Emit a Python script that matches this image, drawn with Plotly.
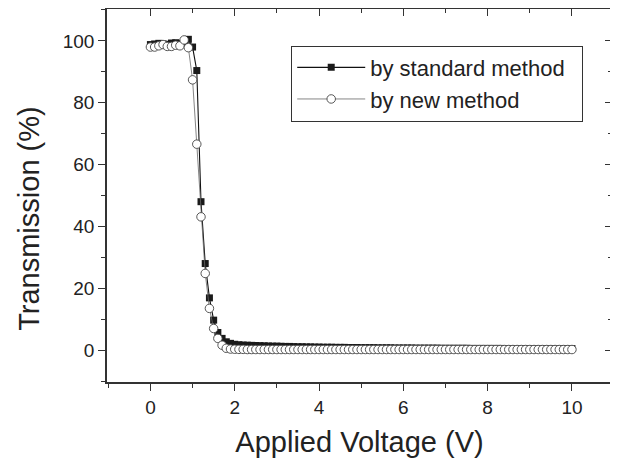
import plotly.graph_objects as go

voltage = [round(i * 0.1, 1) for i in range(101)]

standard = [98.8, 99.0, 99.2, 99.0, 98.9, 99.3, 99.4, 99.1, 99.5, 100.5,
            98.0, 90.4, 48.0, 28.0, 16.9, 9.7, 5.7, 3.8, 2.7, 2.2,
            1.9, 1.75, 1.65, 1.6, 1.55, 1.5, 1.45, 1.4, 1.35, 1.3,
            1.3, 1.25, 1.2, 1.2, 1.15, 1.1, 1.1, 1.05, 1.05, 1.0,
            1.0, 0.95, 0.95, 0.95, 0.9, 0.9, 0.9, 0.85, 0.85, 0.85,
            0.8, 0.8, 0.8, 0.8, 0.75, 0.75, 0.75, 0.75, 0.7, 0.7,
            0.7, 0.7, 0.7, 0.65, 0.65, 0.65, 0.65, 0.65, 0.65, 0.6,
            0.6, 0.6, 0.6, 0.6, 0.6, 0.6, 0.55, 0.55, 0.55, 0.55,
            0.55, 0.55, 0.55, 0.55, 0.5, 0.5, 0.5, 0.5, 0.5, 0.5,
            0.5, 0.5, 0.5, 0.5, 0.5, 0.5, 0.5, 0.5, 0.5, 0.5,
            0.5]

new = [98.0, 98.0, 98.4, 98.8, 98.2, 98.2, 98.6, 98.4, 100.3, 97.8,
       87.4, 66.6, 43.1, 24.8, 13.5, 7.0, 3.8, 1.6, 0.6, 0.35,
       0.3, 0.25, 0.25, 0.2, 0.2, 0.2, 0.2, 0.2, 0.2, 0.2,
       0.2, 0.2, 0.2, 0.2, 0.2, 0.2, 0.2, 0.2, 0.2, 0.2,
       0.2, 0.2, 0.2, 0.2, 0.2, 0.2, 0.2, 0.2, 0.2, 0.2,
       0.2, 0.2, 0.2, 0.2, 0.2, 0.2, 0.2, 0.2, 0.2, 0.2,
       0.2, 0.2, 0.2, 0.2, 0.2, 0.2, 0.2, 0.2, 0.2, 0.2,
       0.2, 0.2, 0.2, 0.2, 0.2, 0.2, 0.2, 0.2, 0.2, 0.2,
       0.2, 0.2, 0.2, 0.2, 0.2, 0.2, 0.2, 0.2, 0.2, 0.2,
       0.2, 0.2, 0.2, 0.2, 0.2, 0.2, 0.2, 0.2, 0.2, 0.2,
       0.2]

series_names = ["by standard method", "by new method"]
x_title = "Applied Voltage (V)"
y_title = "Transmission (%)"

x_ticks = [0, 2, 4, 6, 8, 10]
y_ticks = [0, 20, 40, 60, 80, 100]
x_range = [-1.03, 10.95]
y_range = [-10.3, 110.3]

font_family = "Liberation Sans, Arial, Helvetica, sans-serif"
ink = "#222222"
axis_col = "#333333"
pad = "\u00a0\u00a0"

fig = go.Figure()
fig.add_trace(go.Scatter(
    x=voltage, y=standard, name=series_names[0] + pad, mode="lines+markers",
    line=dict(color="#111111", width=1.1),
    marker=dict(symbol="square", size=7, color="#1a1a1a",
                line=dict(color="#1a1a1a", width=0)),
))
fig.add_trace(go.Scatter(
    x=voltage, y=new, name=series_names[1], mode="lines+markers",
    line=dict(color="#666666", width=0.8),
    marker=dict(symbol="circle", size=8.5, color="white",
                line=dict(color="#444444", width=0.9)),
))
# invisible trace to carry the mirrored (inward) tick axes
fig.add_trace(go.Scatter(x=[], y=[], xaxis="x2", yaxis="y2",
                         showlegend=False, hoverinfo="skip"))

fig.update_layout(
    width=618, height=464,
    margin=dict(l=99, r=14, t=1, b=90, autoexpand=False),
    paper_bgcolor="white", plot_bgcolor="white",
    font=dict(family=font_family, color=ink, size=19),
    showlegend=True,
    legend=dict(
        x=0.943, y=0.902, xanchor="right", yanchor="top",
        bgcolor="white", bordercolor=axis_col, borderwidth=1,
        font=dict(size=22, family=font_family, color=ink),
        itemwidth=68, tracegroupgap=0,
    ),
    xaxis=dict(
        range=x_range, tickvals=x_ticks, ticktext=[str(v) for v in x_ticks],
        ticks="outside", ticklen=7, tickwidth=1.3, tickcolor=axis_col,
        minor=dict(tickvals=[1, 3, 5, 7, 9, -1], ticks="outside", ticklen=4,
                   tickwidth=1.3, tickcolor=axis_col),
        showline=True, linecolor=axis_col, linewidth=1.6, mirror=True,
        showgrid=False, zeroline=False, automargin=False,
        tickfont=dict(size=19),
        title=dict(text=x_title, font=dict(size=29), standoff=15),
    ),
    yaxis=dict(
        range=y_range, tickvals=y_ticks, ticktext=[str(v) for v in y_ticks],
        ticks="outside", ticklen=7, tickwidth=1.3, tickcolor=axis_col,
        minor=dict(tickvals=[-10, 10, 30, 50, 70, 90, 110], ticks="outside",
                   ticklen=4, tickwidth=1.3, tickcolor=axis_col),
        showline=True, linecolor=axis_col, linewidth=1.6, mirror=True,
        showgrid=False, zeroline=False, automargin=False,
        tickfont=dict(size=19),
    ),
    xaxis2=dict(
        overlaying="x", side="top", range=x_range, tickvals=x_ticks,
        showticklabels=False, ticks="inside", ticklen=7, tickwidth=1.3,
        tickcolor=axis_col, automargin=False,
        minor=dict(tickvals=[1, 3, 5, 7, 9], ticks="inside", ticklen=4,
                   tickwidth=1.3, tickcolor=axis_col),
        showgrid=False, zeroline=False, showline=False,
    ),
    yaxis2=dict(
        overlaying="y", side="right", range=y_range, tickvals=y_ticks,
        showticklabels=False, ticks="inside", ticklen=7, tickwidth=1.3,
        tickcolor=axis_col, automargin=False,
        minor=dict(tickvals=[10, 30, 50, 70, 90], ticks="inside", ticklen=4,
                   tickwidth=1.3, tickcolor=axis_col),
        showgrid=False, zeroline=False, showline=False,
    ),
    annotations=[dict(
        text=y_title, textangle=-90, showarrow=False,
        xref="paper", yref="paper", x=-0.156, y=0.438,
        xanchor="center", yanchor="middle",
        font=dict(size=29, family=font_family, color=ink),
    )],
)

fig.write_html("out.html")
